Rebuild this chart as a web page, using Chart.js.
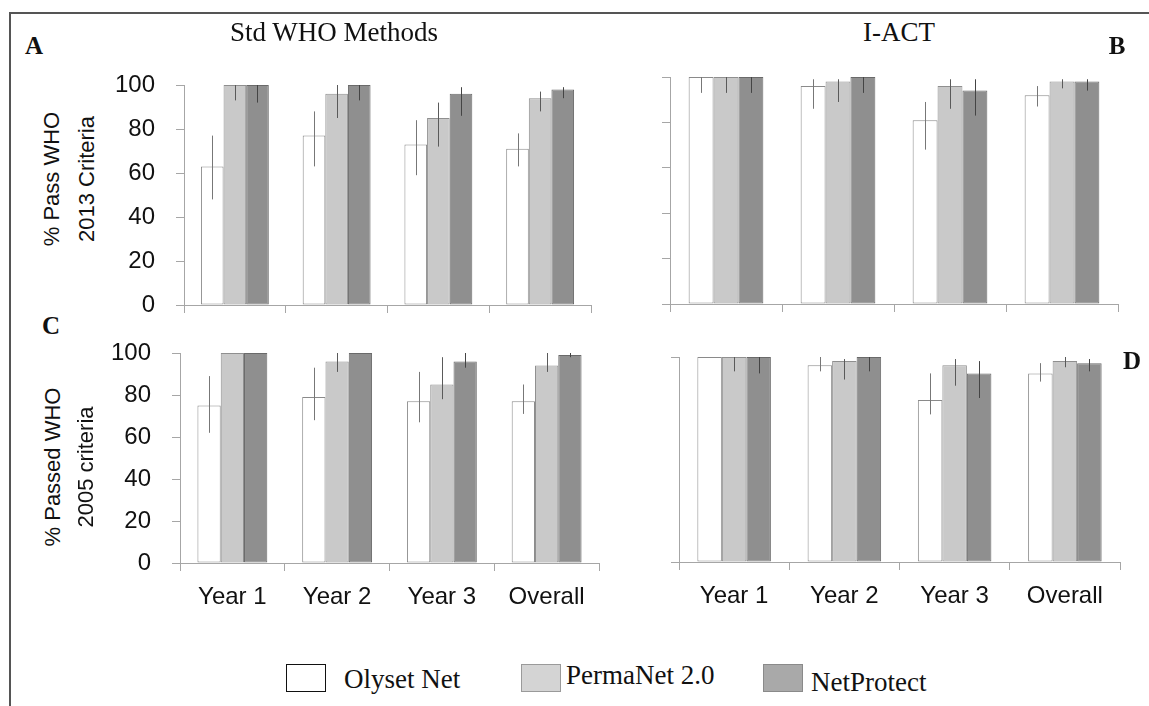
<!DOCTYPE html>
<html>
<head>
<meta charset="utf-8">
<script src="https://cdn.jsdelivr.net/npm/chart.js@4.4.1/dist/chart.umd.min.js"></script>
<style>
  body { margin: 0; background: #fff; }
  #fig { position: relative; width: 1149px; height: 706px; overflow: hidden; background: #fff; }
  #frame { position: absolute; left: 9px; top: 12px; width: 1150px; height: 700px;
           border-top: 2px solid #555; border-left: 2px solid #555; }
  canvas { position: absolute; }
  .t { position: absolute; line-height: 1; white-space: nowrap; color: #111; }
  .serif { font-family: "Liberation Serif", "Times New Roman", serif; }
  .sans { font-family: "Liberation Sans", Arial, sans-serif; }
  .c { transform: translate(-50%, -50%); }
  .rot { transform: translate(-50%, -50%) rotate(-90deg); }
  .lbl { transform: translateY(-50%); }
  .box { position: absolute; width: 38px; height: 26px; }
</style>
</head>
<body>
<div id="fig">
  <div id="frame"></div>

  <canvas id="panelA"></canvas>
  <canvas id="panelB"></canvas>
  <canvas id="panelC"></canvas>
  <canvas id="panelD"></canvas>

  <div class="t serif c" style="left:334px; top:32px; font-size:27px;">Std WHO Methods</div>
  <div class="t serif c" style="left:899px; top:32px; font-size:27px;">I-ACT</div>

  <div class="t serif c" style="left:34px; top:45px; font-size:25px; font-weight:bold;">A</div>
  <div class="t serif c" style="left:1117px; top:45px; font-size:25px; font-weight:bold;">B</div>
  <div class="t serif c" style="left:51px; top:325px; font-size:25px; font-weight:bold;">C</div>
  <div class="t serif c" style="left:1132px; top:360px; font-size:25px; font-weight:bold;">D</div>

  <div class="t sans rot" style="left:52px; top:179px; font-size:22px;">% Pass WHO</div>
  <div class="t sans rot" style="left:87px; top:179px; font-size:22px;">2013 Criteria</div>
  <div class="t sans rot" style="left:53px; top:467px; font-size:22px;">% Passed WHO</div>
  <div class="t sans rot" style="left:86px; top:467px; font-size:22px;">2005 criteria</div>

  <!-- legend -->
  <div class="box" style="left:286px; top:664px; background:#fff; border:1.5px solid #111;"></div>
  <div class="t serif lbl" style="left:344px; top:679px; font-size:27px;">Olyset Net</div>
  <div class="box" style="left:521px; top:664px; background:#d4d4d4; border:1px solid #9a9a9a;"></div>
  <div class="t serif lbl" style="left:566px; top:675px; font-size:27px;">PermaNet 2.0</div>
  <div class="box" style="left:763px; top:664px; background:#a9a9a9; border:1px solid #8a8a8a;"></div>
  <div class="t serif lbl" style="left:811px; top:682px; font-size:27px;">NetProtect</div>
</div>

<script>
const years = ['Year 1', 'Year 2', 'Year 3', 'Overall'];
const nets = ['Olyset Net', 'PermaNet 2.0', 'NetProtect'];

// A - standard WHO methods, 2013 criteria (% pass, with [low, high] intervals)
const aOlyset = [63, 77, 73, 71];
const aOlysetCI = [[48, 77], [63, 88], [59, 84], [63, 78]];
const aPerma = [100, 96, 85, 94];
const aPermaCI = [[93, 100], [85, 100], [72, 92], [88, 97]];
const aNetPro = [100, 100, 96, 98];
const aNetProCI = [[92, 100], [93, 100], [86, 99], [94, 99]];

// B - I-ACT, 2013 criteria
const bOlyset = [100, 96, 81, 92];
const bOlysetCI = [[93, 100], [86, 99], [68, 89], [87, 96]];
const bPerma = [100, 98, 96, 98];
const bPermaCI = [[93, 100], [89, 99], [86, 99], [95, 99]];
const bNetPro = [100, 100, 94, 98];
const bNetProCI = [[93, 100], [93, 100], [83, 99], [94, 99]];

// C - standard WHO methods, 2005 criteria
const cOlyset = [75, 79, 77, 77];
const cOlysetCI = [[62, 89], [68, 93], [67, 91], [71, 85]];
const cPerma = [100, 96, 85, 94];
const cPermaCI = [null, [91, 100], [78, 98], [91, 100]];
const cNetPro = [100, 100, 96, 99];
const cNetProCI = [null, null, [93, 100], [98, 100]];

// D - I-ACT, 2005 criteria
const dOlyset = [100, 96, 79, 92];
const dOlysetCI = [null, [93, 100], [72, 92], [88, 97]];
const dPerma = [100, 98, 96, 98];
const dPermaCI = [[93, 100], [89, 99], [86, 99], [95, 100]];
const dNetPro = [100, 100, 92, 97];
const dNetProCI = [[92, 100], [93, 100], [80, 98], [93, 99]];

const yTicks = [0, 20, 40, 60, 80, 100];

const axisGray = '#a6a6a6';
const fills = ['#ffffff', '#c9c9c9', '#8f8f8f'];
const edges = ['#8a8a8a', '#8f8f8f', '#6a6a6a'];
const whiskers = ['#777777', '#5a5a5a', '#444444'];

// vertical interval lines, no caps
const errorBars = {
  id: 'errorBars',
  afterDatasetsDraw(chart) {
    const ctx = chart.ctx;
    const y = chart.scales.y;
    chart.data.datasets.forEach((ds, i) => {
      const meta = chart.getDatasetMeta(i);
      ctx.save();
      ctx.strokeStyle = whiskers[i];
      ctx.lineWidth = 1;
      meta.data.forEach((bar, j) => {
        const ci = ds.ci[j];
        if (!ci) return;
        const x = Math.round(bar.x) + 0.5;
        ctx.beginPath();
        ctx.moveTo(x, y.getPixelForValue(ci[1]));
        ctx.lineTo(x, y.getPixelForValue(ci[0]));
        ctx.stroke();
      });
      ctx.restore();
    });
  }
};

function makePanel(id, box, values, intervals, opt) {
  const cv = document.getElementById(id);
  cv.width = box.w; cv.height = box.h;
  cv.style.left = box.x + 'px'; cv.style.top = box.y + 'px';
  cv.style.width = box.w + 'px'; cv.style.height = box.h + 'px';

  const datasets = [];
  for (let i = 0; i < nets.length; i++) {
    datasets.push({
      label: nets[i],
      data: values[i],
      ci: intervals[i],
      backgroundColor: fills[i],
      borderColor: edges[i],
      borderWidth: 1,
      borderSkipped: false,
      categoryPercentage: 0.667,
      barPercentage: 1.0
    });
  }

  return new Chart(cv, {
    type: 'bar',
    data: { labels: years, datasets: datasets },
    plugins: [errorBars],
    options: {
      responsive: false,
      animation: false,
      layout: { padding: { top: opt.padTop, right: 10, left: 0, bottom: 0 } },
      plugins: { legend: { display: false }, tooltip: { enabled: false } },
      scales: {
        x: {
          offset: true,
          grid: { offset: true, drawOnChartArea: false, tickLength: 8, color: axisGray },
          border: { color: axisGray },
          ticks: {
            display: opt.xLabels,
            padding: 12,
            color: '#111',
            font: { family: 'Liberation Sans', size: 24 }
          },
          afterFit: s => { s.height = opt.xh; }
        },
        y: {
          min: 0, max: 100,
          afterBuildTicks: s => {
            s.ticks = opt.yVals.map(v => ({ value: v }));
          },
          grid: { drawOnChartArea: false, tickLength: 8, color: axisGray },
          border: { color: axisGray },
          ticks: {
            display: opt.yLabels,
            padding: 21,
            color: '#111',
            font: { family: 'Liberation Sans', size: 24 }
          },
          afterFit: s => { s.width = opt.yw; }
        }
      }
    }
  });
}

// panels with tick labels need extra room on top for the label overhang
makePanel('panelA', { x: 100, y: 45, w: 501, h: 300 },
  [aOlyset, aPerma, aNetPro], [aOlysetCI, aPermaCI, aNetProCI],
  { xLabels: false, yLabels: true, xh: 40, yw: 84, padTop: 40, yVals: yTicks });

makePanel('panelB', { x: 600, y: 57, w: 528, h: 287 },
  [bOlyset, bPerma, bNetPro], [bOlysetCI, bPermaCI, bNetProCI],
  { xLabels: false, yLabels: false, xh: 40, yw: 70, padTop: 20, yVals: yTicks });

makePanel('panelC', { x: 100, y: 313, w: 509, h: 310 },
  [cOlyset, cPerma, cNetPro], [cOlysetCI, cPermaCI, cNetProCI],
  { xLabels: true, yLabels: true, xh: 60, yw: 80, padTop: 40, yVals: yTicks });

makePanel('panelD', { x: 600, y: 337, w: 530, h: 285 },
  [dOlyset, dPerma, dNetPro], [dOlysetCI, dPermaCI, dNetProCI],
  { xLabels: true, yLabels: false, xh: 60, yw: 79, padTop: 20, yVals: [0, 100] });
</script>
</body>
</html>
